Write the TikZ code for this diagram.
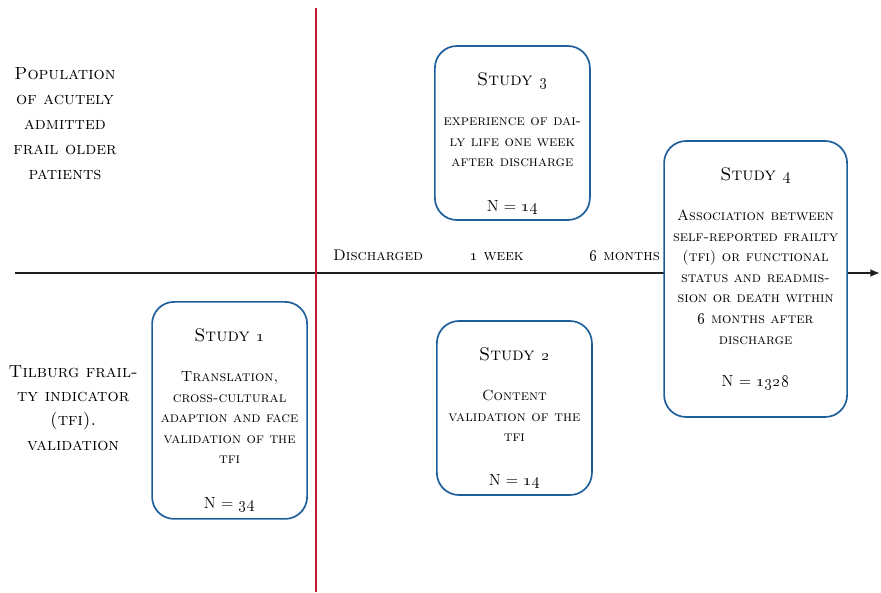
\documentclass[tikz,border=0pt]{standalone}
\usetikzlibrary{arrows.meta}
\definecolor{boxblue}{RGB}{30,95,155}
\definecolor{dischred}{RGB}{190,30,50}
\definecolor{axisgray}{RGB}{30,30,30}

\begin{document}
\begin{tikzpicture}[
    study/.style={draw=boxblue,fill=white,line width=1.2pt,rounded corners=0.55cm,minimum width=3.875cm},
    studytitle/.style={anchor=base,font=\fontsize{13}{15}\selectfont\scshape},
    studydesc/.style={anchor=base,align=center,font=\fontsize{10.5}{14.65}\selectfont\scshape},
    studyn/.style={anchor=base,font=\fontsize{11.5}{14}\selectfont},
    sidelabel/.style={anchor=base,align=center,font=\fontsize{12.5}{17.8}\selectfont\scshape},
    timelabel/.style={anchor=base,font=\fontsize{11}{13}\selectfont\scshape}
]
    \useasboundingbox (0,0) rectangle (22.025,14.8);

    % time axis and discharge line
    \coordinate (tstart) at (0.375,7.975);
    \coordinate (tend) at (22.0,7.975);
    \coordinate (dtop) at (7.9,14.6);
    \coordinate (dbot) at (7.9,0);
    \draw[axisgray,line width=1.4pt,-{Latex[length=2.4mm,width=2mm]}] (tstart) -- (tend);
    \draw[dischred,line width=1.3pt] (dtop) -- (dbot);

    \node[timelabel] (tdis) at (9.45,8.275) {Discharged};
    \node[timelabel] (tweek) at (12.425,8.275) {\oldstylenums{1} week};
    \node[timelabel] (tmonth) at (15.62,8.275) {\oldstylenums{6} months};

    % row labels (base = last line)
    \node[sidelabel] (pop) at (1.625,10.3) {Population\\of acutely\\admitted\\frail older\\patients};
    \node[sidelabel,font=\fontsize{12.5}{17.1}\selectfont\scshape] (tfi) at (1.83,3.55) {Tilburg frail-\\ty indicator\\(tfi).\\validation};

    % studies
    \node[study,minimum height=4.35cm] (s3) at (12.81,11.475) {};
    \node[studytitle] (s3title) at ([yshift=-1.01cm]s3.north) {Study \oldstylenums{3}};
    \node[studydesc] (s3desc) at ([yshift=-3.04cm]s3.north) {experience of dai-\\ly life one week\\after discharge};
    \node[studyn] (s3n) at ([yshift=-4.15cm]s3.north) {N = \oldstylenums{14}};

    \node[study,minimum width=4.575cm,minimum height=6.9cm] (s4) at (18.89,7.825) {};
    \node[studytitle] (s4title) at ([yshift=-1.01cm]s4.north) {Study \oldstylenums{4}};
    \node[studydesc] (s4desc) at ([yshift=-5.10cm]s4.north) {Association between\\self-reported frailty\\(tfi) or functional\\status and readmis-\\sion or death within\\\oldstylenums{6} months after\\discharge};
    \node[studyn] (s4n) at ([yshift=-6.15cm]s4.north) {N = \oldstylenums{1328}};

    \node[study,minimum height=5.425cm] (s1) at (5.74,4.54) {};
    \node[studytitle] (s1title) at ([yshift=-1.01cm]s1.north) {Study \oldstylenums{1}};
    \node[studydesc] (s1desc) at ([yshift=-4.07cm]s1.north) {Translation,\\cross-cultural\\adaption and face\\validation of the\\tfi};
    \node[studyn] (s1n) at ([yshift=-5.175cm]s1.north) {N = \oldstylenums{34}};

    \node[study,minimum height=4.35cm] (s2) at (12.86,4.6) {};
    \node[studytitle] (s2title) at ([yshift=-1.01cm]s2.north) {Study \oldstylenums{2}};
    \node[studydesc] (s2desc) at ([yshift=-3.04cm]s2.north) {Content\\validation of the\\tfi};
    \node[studyn] (s2n) at ([yshift=-4.125cm]s2.north) {N = \oldstylenums{14}};
\end{tikzpicture}
\end{document}
